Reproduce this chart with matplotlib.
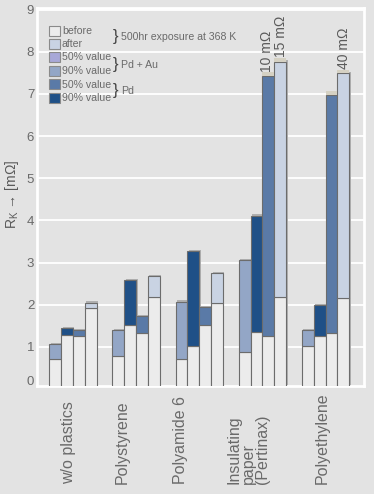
import matplotlib.pyplot as plt
import matplotlib.transforms as mtransforms
from matplotlib.patches import Rectangle

# data (contact resistance R_K in mOhm)
groups = ['w/o plastics', 'Polystyrene', 'Polyamide 6',
          'Insulating\npaper\n(Pertinax)', 'Polyethylene']

pdau_before = [0.71, 0.79, 0.72, 0.87, 1.01]
pdau_90 = [1.06, 1.39, 2.07, 3.06, 1.39]
pd90_before = [1.28, 1.51, 1.03, 1.35, 1.26]
pd_90 = [1.45, 2.58, 3.27, 4.11, 1.99]
pd50_before = [1.26, 1.32, 1.51, 1.25, 1.32]
pd_50 = [1.39, 1.73, 1.95, 7.43, 6.98]
before = [1.91, 2.18, 2.03, 2.18, 2.15]
after = [2.05, 2.67, 2.75, 7.77, 7.49]

# bars that run off the scale: (group, bar index, label)
broken = [(3, 2, '10 mΩ'), (3, 3, '15 mΩ'), (4, 2, ''), (4, 3, '40 mΩ')]

# colours
bg = '#e3e3e3'
c_before = '#ececec'
c_after = '#c9d3e3'
c_pdau50 = '#a8a8d8'
c_pdau90 = '#93a6c6'
c_pd50 = '#5a7aa7'
c_pd90 = '#1f5087'
c_break = '#d5d1c3'
txt = '#6a6a6a'

plt.rcParams['font.family'] = ['Liberation Sans', 'DejaVu Sans']

fig = plt.figure(figsize=(3.74, 4.94), dpi=100, facecolor=bg)
ax = fig.add_axes([37 / 374, 108 / 494, 327 / 374, 378 / 494])
ax.set_facecolor(bg)

spacing = 5.33
series = [(pdau_before, pdau_90, c_pdau90),
          (pd90_before, pd_90, c_pd90),
          (pd50_before, pd_50, c_pd50),
          (before, after, c_after)]

for g in range(len(groups)):
    x0 = g * spacing
    for i, (base, top, col) in enumerate(series):
        x = x0 + i
        # soft shadow behind each bar
        ax.bar(x + 0.12, top[g] + 0.03, width=1, align='edge', color='#b0b0b0',
               zorder=2, linewidth=0)
        ax.bar(x, base[g], width=1, align='edge', color=c_before,
               edgecolor='#6c6c6c', linewidth=0.8, zorder=3)
        ax.bar(x, top[g] - base[g], bottom=base[g], width=1, align='edge',
               color=col, edgecolor='#6c6c6c', linewidth=0.8, zorder=3)

for g, i, lab in broken:
    base, top, col = series[i]
    x = g * spacing + i
    ax.bar(x, 0.08, bottom=top[g], width=1, align='edge', color=c_break,
           linewidth=0, zorder=4)
    if lab:
        shift = -0.15 if lab.startswith('10') else 0.05
        ax.text(x + 0.5 + shift, top[g] + 0.1, lab, rotation=90, ha='center',
                va='bottom', fontsize=10, color='#5a5a5a', zorder=5)

ax.set_xlim(-1.04, 26.56)
ax.set_ylim(0.07, 9.04)
for v in range(1, 10):
    ax.axhline(v, color='white', linewidth=1.3, zorder=1)
ax.set_yticks([0.21] + list(range(1, 10)))
ax.set_yticklabels([str(v) for v in range(10)])
ax.set_xticks([])
ax.tick_params(axis='y', length=0, pad=2, labelsize=9.5, labelcolor=txt)
for s in ax.spines.values():
    s.set_color('white')
    s.set_linewidth(2)

# category labels
trans = mtransforms.blended_transform_factory(ax.transData, fig.transFigure)
label_offsets = [1.58, 0.82, 0.40, 0.82, 1.71]
for g, name in enumerate(groups):
    ax.text(g * spacing + label_offsets[g], 10 / 494, name, transform=trans,
            rotation=90, ha='center', va='bottom', multialignment='left',
            fontsize=11.5, color=txt, linespacing=0.95)

# y label
fig.text(12 / 374, 1 - 194 / 494, r'R$_\mathregular{K}$ → [mΩ]', rotation=90,
         ha='center', va='center', fontsize=10, color='#5a5a5a')

# legend drawn in pixel space
lax = fig.add_axes([0, 0, 1, 1])
lax.set_xlim(0, 374)
lax.set_ylim(494, 0)
lax.axis('off')
lax.patch.set_alpha(0)

legend_items = [(c_before, 'before'), (c_after, 'after'),
                (c_pdau50, '50% value'), (c_pdau90, '90% value'),
                (c_pd50, '50% value'), (c_pd90, '90% value')]
tops = [26, 39, 52.5, 66, 79.5, 93]
for (col, lab), ty in zip(legend_items, tops):
    lax.add_patch(Rectangle((49.5, ty), 10.5, 10, facecolor=col,
                            edgecolor='#8a8a8a', linewidth=0.8))
    lax.text(62, ty + 5, lab, ha='left', va='center', fontsize=7.6, color=txt)

for yc, lab in [(37, '500hr exposure at 368 K'), (64, 'Pd + Au'), (91, 'Pd')]:
    lax.text(113, yc, '}', ha='left', va='center', fontsize=12, color='#444444')
    lax.text(121, yc + 0.5, lab, ha='left', va='center', fontsize=7.6, color=txt)

fig.savefig('out.png', dpi=100, facecolor=bg)
